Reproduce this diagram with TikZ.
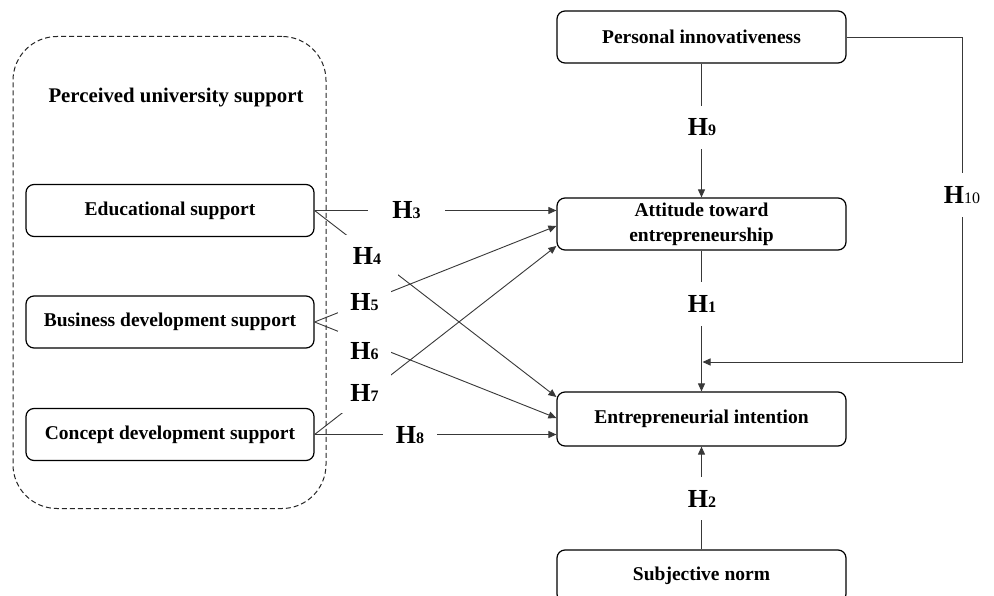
\documentclass[tikz,border=0pt]{standalone}
\usepackage{fontspec}
\setmainfont{Liberation Serif}
\usetikzlibrary{arrows.meta,calc}
\newcommand\hlab[1]{{\fontsize{26}{26}\selectfont\bfseries H}{\fontsize{16}{16}\selectfont\bfseries #1}}
\newcommand\hlabthin[1]{{\fontsize{26}{26}\selectfont\bfseries H}{\fontsize{16}{16}\selectfont #1}}
\begin{document}
\begin{tikzpicture}[x=1pt,y=-1pt,
  box/.style={draw=black,line width=1.2pt,rounded corners=8pt,minimum width=288pt,minimum height=52pt,inner sep=0pt,align=center,font=\fontsize{19.5}{25}\selectfont\bfseries},
  conn/.style={draw=black!78,line width=0.9pt},
  arr/.style={conn,-{Triangle[length=8pt,width=7pt]}},
  lab/.style={fill=white,inner sep=0pt,minimum width=54pt,minimum height=40pt}
]
\clip (0,0) rectangle (994,596);
\fill[white] (0,0) rectangle (994,596);
% container
\node[draw=black!85,dashed,dash pattern=on 5pt off 3pt,line width=1pt,rounded corners=44pt,minimum width=313pt,minimum height=472pt,inner sep=0pt] (pus) at (169.5,272.5) {};
\node[font=\fontsize{20.8}{25}\selectfont\bfseries] (title) at (176,98) {Perceived university support};
% boxes
\node[box] (edu) at (170,210.5) {Educational support};
\node[box] (bus) at (170,322) {Business development support};
\node[box] (con) at (170,434.5) {Concept development support};
\node[box,minimum width=289pt] (pi) at (701.5,37) {Personal innovativeness};
\node[box,minimum width=289pt] (att) at (701.5,224) {Attitude toward\\entrepreneurship};
\node[box,minimum width=289pt,minimum height=54pt] (ei) at (701.5,419) {Entrepreneurial intention};
\node[box,minimum width=289pt] (sn) at (701.5,576) {Subjective norm};
% connectors
\draw[arr] (edu.east) -- ($(att.west)+(0,-13.5)$);
\draw[arr] (edu.east) -- ($(ei.west)+(0,-22)$);
\draw[arr] (bus.east) -- ($(att.west)+(0,2)$);
\draw[arr] (bus.east) -- ($(ei.west)+(0,-1)$);
\draw[arr] (con.east) -- ($(att.west)+(0,22)$);
\draw[arr] (con.east) -- ($(ei.west)+(0,15.5)$);
\draw[arr] (pi.south) -- (att.north);
\draw[arr] (att.south) -- (ei.north);
\draw[arr] (sn.north) -- (ei.south);
\coordinate (c1) at (962,37);
\coordinate (c2) at (962,362);
\coordinate (c3) at (702.5,362);
\draw[arr] (pi.east) -- (c1) -- (c2) -- (c3);
% labels
\node[lab,minimum width=77pt,minimum height=43pt] (h3) at (406.5,210) {\hlab{3}};
\node[lab,minimum width=62pt,minimum height=42pt] (h4) at (367,256) {\hlab{4}};
\node[lab,minimum width=53pt] (h5) at (364.5,302) {\hlab{5}};
\node[lab,minimum width=53pt] (h6) at (364.5,351) {\hlab{6}};
\node[lab,minimum width=53pt] (h7) at (364.5,393) {\hlab{7}};
\node[lab] (h8) at (410,435) {\hlab{8}};
\node[lab,minimum width=60pt,minimum height=43pt] (h9) at (702,127.5) {\hlab{9}};
\node[lab,minimum width=60pt,minimum height=44pt] (h1) at (702,304) {\hlab{1}};
\node[lab,minimum width=60pt,minimum height=43pt] (h2) at (702,498.5) {\hlab{2}};
\node[lab,minimum width=60pt,minimum height=44pt] (h10) at (962,195) {\hlabthin{10}};
\end{tikzpicture}
\end{document}
